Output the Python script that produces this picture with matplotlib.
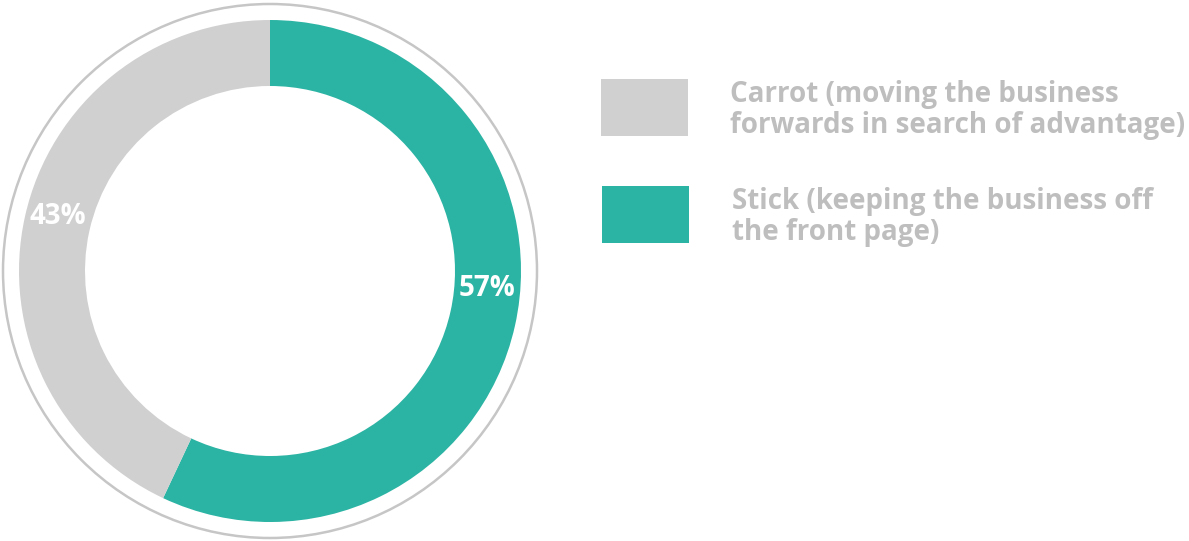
import matplotlib
matplotlib.use("Agg")
import matplotlib.pyplot as plt
from matplotlib.patches import Circle, Rectangle

labels = ["Stick (keeping the business off\nthe front page)",
          "Carrot (moving the business\nforwards in search of advantage)"]
values = [57, 43]
pct_labels = ["57%", "43%"]
colors = ["#2BB3A3", "#D0D0D0"]

W, H = 1189, 541
fig = plt.figure(figsize=(W / 100, H / 100), dpi=100)
ax = fig.add_axes([0, 0, 1, 1])

cx, cy = 270, H - 271
R = 251
ring = 66

ax.pie(values, colors=colors, startangle=90, counterclock=False,
       radius=R, center=(cx, cy), frame=True,
       wedgeprops=dict(width=ring, linewidth=0))
ax.set_xlim(0, W)
ax.set_ylim(0, H)
ax.set_aspect("equal")
ax.axis("off")

ax.add_patch(Circle((cx, cy), 267, fill=False, edgecolor="#C6C6C6", linewidth=1.8))

font = "Open Sans"
# percentage labels
ax.text(487, H - 289, pct_labels[0], color="white", fontsize=20, fontweight="bold",
        family=font, ha="center", va="center")
ax.text(58, H - 217, pct_labels[1], color="white", fontsize=20, fontweight="bold",
        family=font, ha="center", va="center")

# legend
legend_items = [(labels[1], colors[1], 601, 79, 730, 110),
                (labels[0], colors[0], 602, 186, 732, 217)]
for text, col, rx, ry, tx, ty in legend_items:
    ax.add_patch(Rectangle((rx, H - ry - 57), 87, 57, facecolor=col, edgecolor="none"))
    ax.text(tx, H - ty, text, color="#BEBEBE", fontsize=20, fontweight="bold",
            family=font, ha="left", va="center", linespacing=1.1)

fig.savefig("out.png", dpi=100)
